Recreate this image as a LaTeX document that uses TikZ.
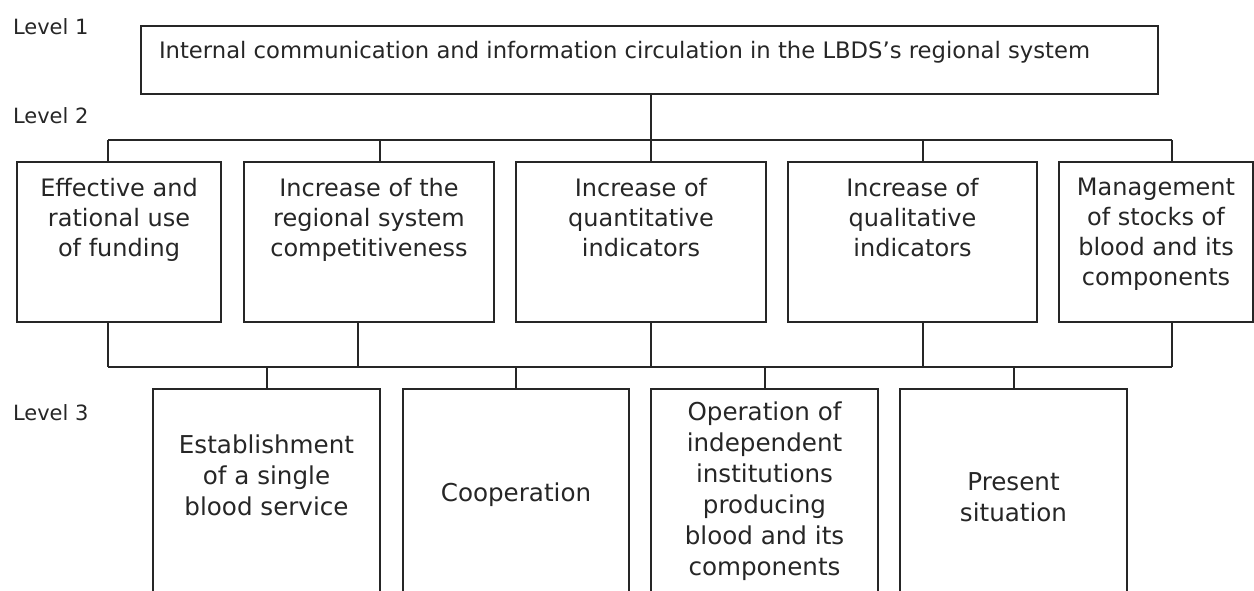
\documentclass[tikz,border=0pt]{standalone}
\usepackage{fontspec}
\setmainfont{DejaVu Sans}
\begin{document}
\begin{tikzpicture}[x=0.5pt, y=-0.5pt, line width=1pt,
  box/.style={draw=black!85, line width=1pt, inner sep=0pt},
  lbl/.style={text=black!85, inner sep=0pt, font=\fontsize{10.5}{13}\selectfont},
  midtext/.style={text=black!85, inner sep=0pt, align=center, anchor=north, font=\fontsize{12}{15}\selectfont},
  lowtext/.style={text=black!85, inner sep=0pt, align=center, font=\fontsize{12.3}{15.5}\selectfont}]
\clip (0,0) rectangle (1254,590);
\node[lbl, anchor=west] (lev1) at (12,27) {Level 1};
\node[lbl, anchor=west] (lev2) at (12,116) {Level 2};
\node[lbl, anchor=west] (lev3) at (12,413) {Level 3};

\node[box, minimum width=508.5pt, minimum height=34pt] (top) at (649.5,60) {};
\node[lbl, anchor=west, font=\fontsize{11.35}{14}\selectfont] (toptext) at (158,52) {Internal communication and information circulation in the LBDS's regional system};

\begin{scope}[every node/.append style={minimum height=80pt}]
\node[box, minimum width=102pt] (fund) at (119,242) {};
\node[box, minimum width=125pt] (comp) at (369,242) {};
\node[box, minimum width=125pt] (quant) at (641,242) {};
\node[box, minimum width=124.5pt] (qual) at (912.5,242) {};
\node[box, minimum width=97pt] (stock) at (1156,242) {};
\end{scope}
\node[midtext] (fundtext) at ([yshift=-8pt]fund.north) {Effective and\\rational use\\of funding};
\node[midtext] (comptext) at ([yshift=-8pt]comp.north) {Increase of the\\regional system\\competitiveness};
\node[midtext] (quanttext) at ([yshift=-8pt]quant.north) {Increase of\\quantitative\\indicators};
\node[midtext] (qualtext) at ([yshift=-8pt]qual.north) {Increase of\\qualitative\\indicators};
\node[midtext] (stocktext) at ([yshift=-8pt]stock.north) {Management\\of stocks of\\blood and its\\components};

\begin{scope}[every node/.append style={minimum height=105.5pt}]
\node[box, minimum width=113.5pt] (single) at (266.5,494.5) {};
\node[box, minimum width=113pt] (coop) at (516,494.5) {};
\node[box, minimum width=113.5pt] (indep) at (764.5,494.5) {};
\node[box, minimum width=113.5pt] (present) at (1013.5,494.5) {};
\end{scope}
\node[lowtext] (singletext) at (266.5,475) {Establishment\\of a single\\blood service};
\node[lowtext] (cooptext) at (516,495) {Cooperation};
\node[lowtext] (indeptext) at (764.5,491) {Operation of\\independent\\institutions\\producing\\blood and its\\components};
\node[lowtext] (presenttext) at (1013.5,497) {Present\\situation};

\begin{scope}[draw=black!85]
\coordinate (t1) at (108,140);
\coordinate (t2) at (380,140);
\coordinate (t3) at (651,140);
\coordinate (t4) at (923,140);
\coordinate (t5) at (1172,140);
\draw (top.south -| t3) -- (t3);
\draw (t1) -- (t5);
\foreach \c/\n in {t1/fund, t2/comp, t3/quant, t4/qual, t5/stock}
  \draw (\c) -- (\c |- \n.north);

\coordinate (u1) at (108,367);
\coordinate (u2) at (358,367);
\coordinate (u3) at (651,367);
\coordinate (u4) at (923,367);
\coordinate (u5) at (1172,367);
\foreach \c/\n in {u1/fund, u2/comp, u3/quant, u4/qual, u5/stock}
  \draw (\c |- \n.south) -- (\c);
\draw (u1) -- (u5);
\foreach \n in {single, coop, indep, present}
  \draw (\n.north |- u1) -- (\n.north);
\end{scope}
\end{tikzpicture}
\end{document}
